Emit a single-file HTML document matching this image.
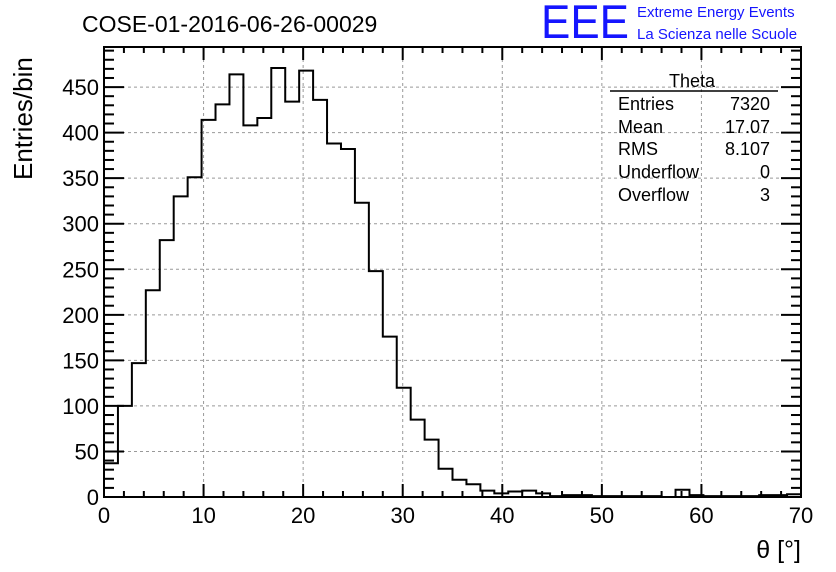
<!DOCTYPE html>
<html><head><meta charset="utf-8"><style>
body{margin:0;background:#fff;}
svg{display:block;font-family:"Liberation Sans",sans-serif;}
</style></head><body>
<svg id="c" width="836" height="572" viewBox="0 0 836 572">
<rect width="836" height="572" fill="#fff"/>
<text x="82" y="32" font-size="23">COSE-01-2016-06-26-00029</text>
<g>
<text x="541" y="38" font-size="47" fill="#1515ff" font-weight="normal" textLength="88" lengthAdjust="spacingAndGlyphs">EEE</text>
<text x="637" y="17" font-size="15" fill="#1515ff">Extreme Energy Events</text>
<text x="637" y="39" font-size="15" fill="#1515ff">La Scienza nelle Scuole</text>
</g>
<g id="grid"></g>
<g id="hist"></g>
<g id="axes"></g>
<g font-size="18">
<text x="692" y="87" text-anchor="middle">Theta</text>
<line x1="610" y1="91" x2="778" y2="91" stroke="#000" stroke-width="1.5"/>
<text x="618" y="110">Entries</text><text x="770" y="110" text-anchor="end">7320</text>
<text x="618" y="133">Mean</text><text x="770" y="133" text-anchor="end">17.07</text>
<text x="618" y="155">RMS</text><text x="770" y="155" text-anchor="end">8.107</text>
<text x="618" y="178">Underflow</text><text x="770" y="178" text-anchor="end">0</text>
<text x="618" y="201">Overflow</text><text x="770" y="201" text-anchor="end">3</text>
</g>
<text transform="translate(32,180) rotate(-90)" font-size="26">Entries/bin</text>
<text x="801" y="558" font-size="25" text-anchor="end">θ [°]</text>
</svg>
<script>
const binCounts=[37,100,147,227,282,330,351,414,431,464,408,416,471,434,468,436,388,382,323,248,176,120,85,63,31,19,14,7,4,6,7,4,1,2,2,1,1,1,1,1,0,8,2,1,1,1,1,2,2,3];
const xTicks=[0,10,20,30,40,50,60,70];
const yTicks=[0,50,100,150,200,250,300,350,400,450];
const xMin=0,xMax=70,yMin=0,yMax=494;
const L=104,R=801,T=47,B=497;
const NS='http://www.w3.org/2000/svg';
const sx=v=>L+(v-xMin)/(xMax-xMin)*(R-L);
const sy=v=>B-(v-yMin)/(yMax-yMin)*(B-T);
function mk(tag,attrs,parent){const e=document.createElementNS(NS,tag);for(const k in attrs)e.setAttribute(k,attrs[k]);parent.appendChild(e);return e;}
const grid=document.getElementById('grid'),hist=document.getElementById('hist'),axes=document.getElementById('axes');
xTicks.forEach(t=>{if(t>xMin&&t<xMax){const l=mk('line',{x1:sx(t),x2:sx(t),y1:T,y2:B,stroke:'#999','stroke-dasharray':'3,3','stroke-width':1},grid);

}});
yTicks.forEach(t=>{if(t>yMin){const l=mk('line',{x1:L,x2:R,y1:sy(t),y2:sy(t),stroke:'#999','stroke-dasharray':'3,3','stroke-width':1},grid);

}});
const bw=(xMax-xMin)/binCounts.length;
let d='M'+sx(xMin)+','+sy(0);
binCounts.forEach((c,i)=>{const x0=sx(xMin+i*bw),x1=sx(xMin+(i+1)*bw);d+=' L'+x0+','+sy(c)+' L'+x1+','+sy(c);});
d+=' L'+sx(xMax)+','+sy(0);
const p=mk('path',{d:d,fill:'none',stroke:'#000','stroke-width':2},hist);


const f=mk('rect',{x:L,y:T,width:R-L,height:B-T,fill:'none',stroke:'#000','stroke-width':2},axes);


for(let v=xMin;v<=xMax;v+=2){const maj=v%10===0;const len=maj?13:6;
mk('line',{x1:sx(v),x2:sx(v),y1:B,y2:B-len,stroke:'#000','stroke-width':2},axes);
mk('line',{x1:sx(v),x2:sx(v),y1:T,y2:T+len,stroke:'#000','stroke-width':2},axes);}
for(let v=yMin;v<=yMax;v+=10){const maj=v%50===0;const len=maj?20:10;
mk('line',{x1:L,x2:L+len,y1:sy(v),y2:sy(v),stroke:'#000','stroke-width':2},axes);
mk('line',{x1:R,x2:R-len,y1:sy(v),y2:sy(v),stroke:'#000','stroke-width':2},axes);}
xTicks.forEach(t=>{const e=mk('text',{x:sx(t),y:523,'font-size':22,'text-anchor':'middle'},axes);e.textContent=t;

});
yTicks.forEach(t=>{const e=mk('text',{x:99,y:sy(t)+8,'font-size':22,'text-anchor':'end'},axes);e.textContent=t;

});
</script>
</body></html>
